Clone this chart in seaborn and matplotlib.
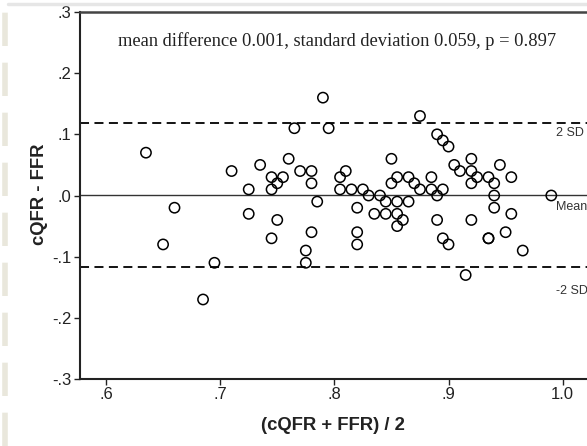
import matplotlib
matplotlib.use("Agg")
import matplotlib.pyplot as plt
from matplotlib.lines import Line2D
import seaborn as sns
import pandas as pd

# Bland-Altman data: mean of methods (x) and difference (y)
avg_values = [0.635, 0.65, 0.66, 0.685, 0.695, 0.71, 0.725, 0.725, 0.735, 0.745,
              0.745, 0.745, 0.75, 0.75, 0.755, 0.76, 0.765, 0.77, 0.775, 0.775,
              0.78, 0.78, 0.78, 0.785, 0.79, 0.795, 0.805, 0.805, 0.81, 0.815,
              0.82, 0.82, 0.82, 0.825, 0.83, 0.835, 0.84, 0.845, 0.845, 0.85,
              0.85, 0.855, 0.855, 0.855, 0.855, 0.86, 0.865, 0.865, 0.87, 0.875,
              0.875, 0.885, 0.885, 0.89, 0.89, 0.89, 0.895, 0.895, 0.895, 0.90,
              0.90, 0.905, 0.91, 0.915, 0.92, 0.92, 0.92, 0.92, 0.925, 0.935,
              0.935, 0.935, 0.94, 0.94, 0.94, 0.945, 0.95, 0.955, 0.955, 0.965,
              0.99]
diff_values = [0.07, -0.08, -0.02, -0.17, -0.11, 0.04, 0.01, -0.03, 0.05, 0.03,
               0.01, -0.07, 0.02, -0.04, 0.03, 0.06, 0.11, 0.04, -0.09, -0.11,
               0.04, 0.02, -0.06, -0.01, 0.16, 0.11, 0.03, 0.01, 0.04, 0.01,
               -0.02, -0.06, -0.08, 0.01, 0.00, -0.03, 0.00, -0.01, -0.03, 0.06,
               0.02, 0.03, -0.01, -0.03, -0.05, -0.04, 0.03, -0.01, 0.02, 0.13,
               0.01, 0.03, 0.01, 0.10, 0.00, -0.04, 0.09, 0.01, -0.07, 0.08,
               -0.08, 0.05, 0.04, -0.13, 0.06, 0.04, 0.02, -0.04, 0.03, 0.03,
               -0.07, -0.07, 0.02, 0.00, -0.02, 0.05, -0.06, 0.03, -0.03, -0.09,
               0.00]

mean_diff = 0.001
sd_diff = 0.059
upper_loa = mean_diff + 2 * sd_diff
lower_loa = mean_diff - 2 * sd_diff

x_ticks = [0.6, 0.7, 0.8, 0.9, 1.0]
x_tick_labels = [".6", ".7", ".8", ".9", "1.0"]
y_ticks = [0.3, 0.2, 0.1, 0.0, -0.1, -0.2, -0.3]
y_tick_labels = [".3", ".2", ".1", ".0", "-.1", "-.2", "-.3"]
line_labels = ["2 SD", "Mean", "-2 SD"]
title_text = "mean difference 0.001, standard deviation 0.059, p = 0.897"

df = pd.DataFrame({"avg": avg_values, "diff": diff_values})

sns.set_theme(style="white")
plt.rcParams["font.family"] = ["Liberation Sans", "DejaVu Sans"]

W, H = 587, 446
fig = plt.figure(figsize=(W / 100, H / 100), dpi=100)
L, R, T, B = 80, 587, 12, 379
ax = fig.add_axes([L / W, 1 - B / H, (R - L) / W, (B - T) / H])

sns.scatterplot(data=df, x="avg", y="diff", ax=ax, marker="o", s=55,
                facecolor="none", edgecolor="black", linewidth=1.1, zorder=3)

ax.axhline(mean_diff, color="#333333", lw=1.0, zorder=2)
ax.axhline(upper_loa, color="black", lw=1.3, ls=(0, (5, 3)), zorder=2)
ax.axhline(lower_loa, color="black", lw=1.3, ls=(0, (5, 3)), zorder=2)

ax.set_xlim(0.6 - 26 / 1141.75, 1.0 + 24.3 / 1141.75)
ax.set_ylim(-0.3, 0.3)
ax.set_xticks(x_ticks)
ax.set_xticklabels(x_tick_labels)
ax.set_yticks(y_ticks)
ax.set_yticklabels(y_tick_labels)
ax.tick_params(axis="both", direction="out", length=4, width=1.0, color="#222222",
               labelsize=12, labelcolor="#222222", pad=2, left=True, bottom=True)

for side in ["left", "bottom"]:
    ax.spines[side].set_color("#222222")
    ax.spines[side].set_linewidth(1.5)
ax.spines["top"].set_color("#444444")
ax.spines["top"].set_linewidth(1.8)
ax.spines["right"].set_visible(False)

ax.set_xlabel("(cQFR + FFR) / 2", fontsize=13.3, fontweight="bold", color="#222222")
ax.set_ylabel("cQFR - FFR", fontsize=13.3, fontweight="bold", color="#222222")
ax.xaxis.set_label_coords(0.499, -0.104)
ax.yaxis.set_label_coords(-0.063, 0.503)

ax.text(0.994, upper_loa - 0.017, line_labels[0], fontsize=9, color="#333333",
        va="center", ha="left")
ax.text(0.994, mean_diff - 0.019, line_labels[1], fontsize=9, color="#333333",
        va="center", ha="left")
ax.text(0.994, lower_loa - 0.039, line_labels[2], fontsize=9, color="#333333",
        va="center", ha="left")

ax.text(0.6105, 0.252, title_text, fontsize=13.3, color="#222222",
        family=["Liberation Serif", "DejaVu Serif"], ha="left", va="center")

# decorative page edges
fig.add_artist(Line2D([8 / W, 1], [1 - 4 / H, 1 - 4 / H], color="#e6e6e6", lw=2.5,
                      transform=fig.transFigure))
fig.add_artist(Line2D([5 / W, 5 / W], [0, 1 - 10 / H], color="#e9e7dc", lw=4,
                      ls=(0, (6, 3)), transform=fig.transFigure))

fig.savefig("out.png", dpi=100, facecolor="white")
